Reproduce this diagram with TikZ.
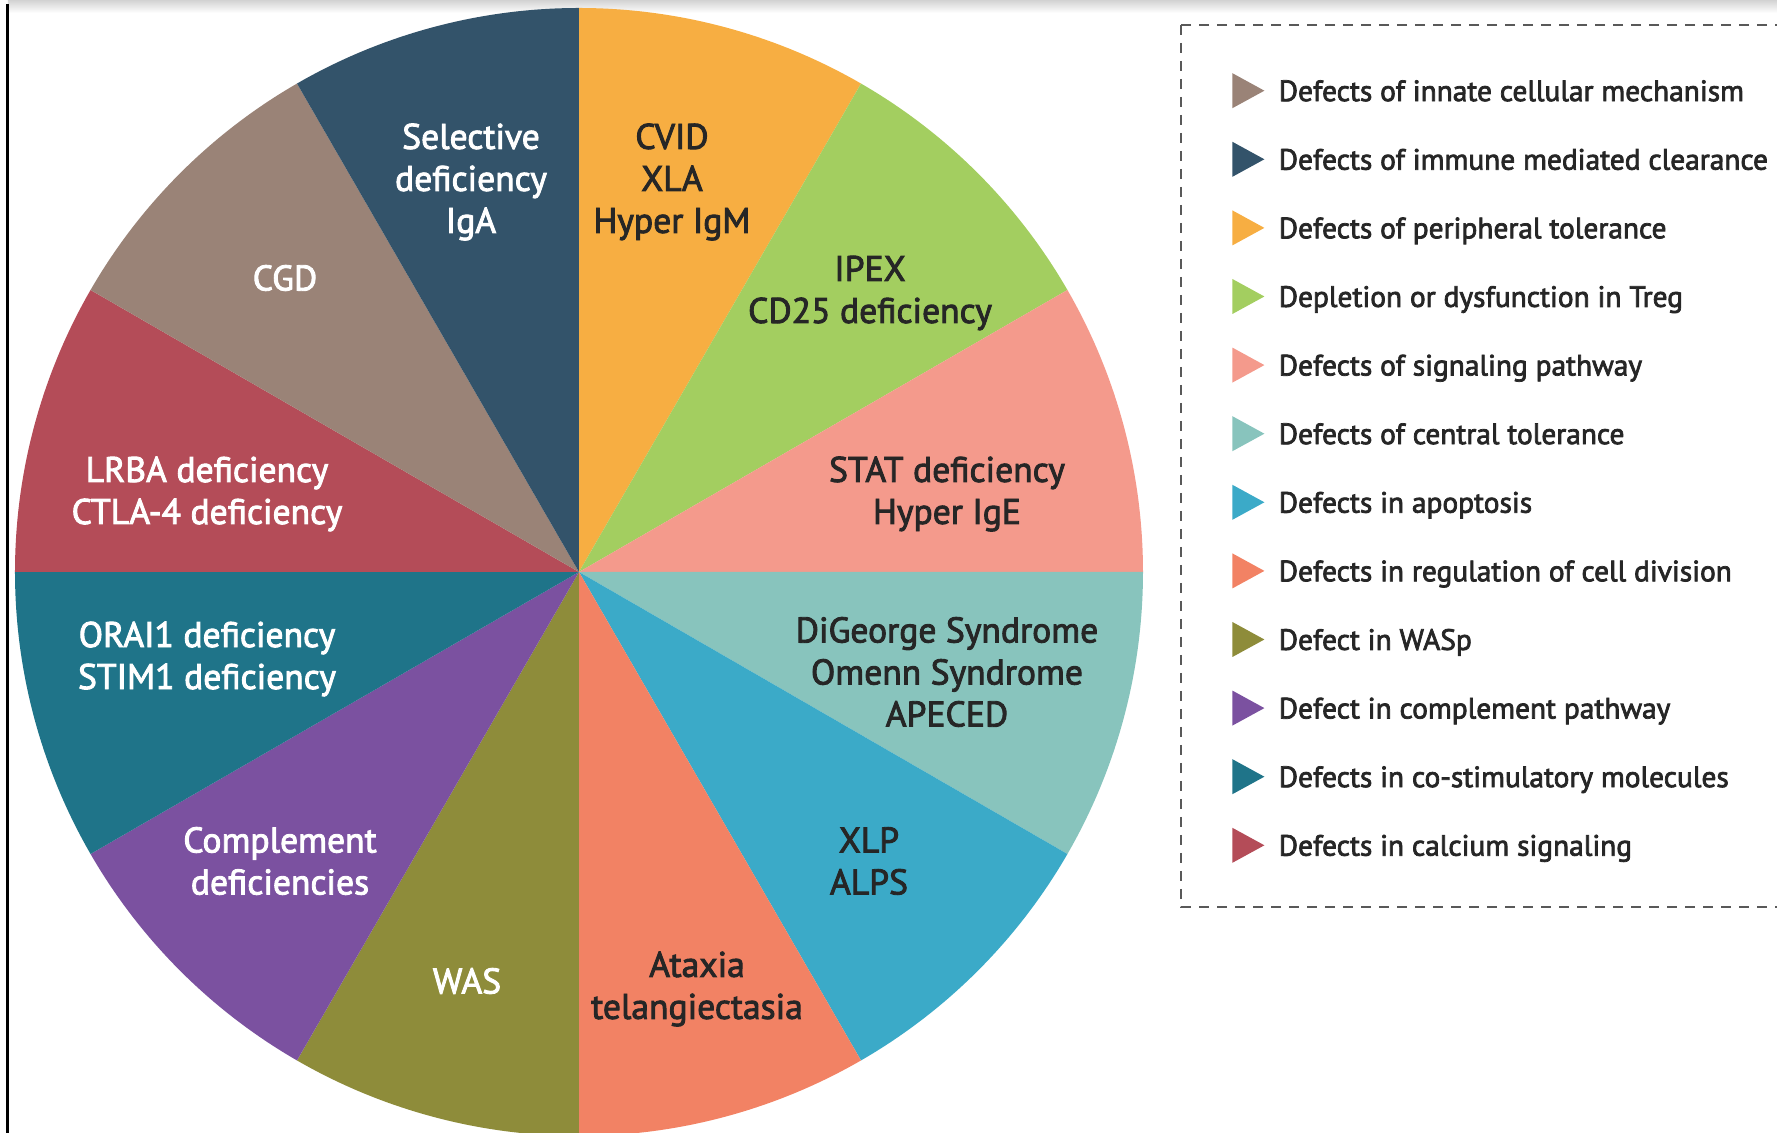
\documentclass[tikz,border=0pt]{standalone}
\usepackage{fontspec}
\setmainfont{PT Sans}[FakeBold=2.5]
\usetikzlibrary{positioning,shapes.geometric}
\definecolor{cOrange}{HTML}{F7AE42}
\definecolor{cGreen}{HTML}{A3CE60}
\definecolor{cPink}{HTML}{F49A8C}
\definecolor{cAqua}{HTML}{88C4BD}
\definecolor{cBlue}{HTML}{3BAAC8}
\definecolor{cCoral}{HTML}{F28264}
\definecolor{cOlive}{HTML}{8E8C3A}
\definecolor{cPurple}{HTML}{7B51A0}
\definecolor{cTeal}{HTML}{1F7489}
\definecolor{cRed}{HTML}{B44C58}
\definecolor{cTaupe}{HTML}{9A8377}
\definecolor{cSlate}{HTML}{33536A}
\definecolor{cInk}{HTML}{262626}

\begin{document}
\begin{tikzpicture}[x=0.5pt,y=0.5pt,
    slicelbl/.style={align=center,inner sep=0pt,font=\fontsize{17.8}{21}\selectfont},
    legmark/.style={isosceles triangle,isosceles triangle stretches,inner sep=0pt,
                    minimum height=16pt,minimum width=17.5pt},
    legtxt/.style={inner sep=0pt,text=cInk,text height=13.4pt,text depth=3pt,font=\fontsize{14.7}{17}\selectfont},
    legbox/.style={draw=gray!70!black,line width=1pt,dash pattern=on 5pt off 4pt}]
\useasboundingbox (-579,-561) rectangle (1198,572);
% edges of the scanned page
\shade[top color=gray!35,bottom color=white] (-571,572) rectangle (1198,559);
\draw[line width=1.5pt] (-571,568) -- (-571,-561);
% Draw the pie, 30 degrees per slice, clockwise from the top
\foreach \a/\c in {90/cOrange,60/cGreen,30/cPink,0/cAqua,-30/cBlue,-60/cCoral,
                   -90/cOlive,-120/cPurple,-150/cTeal,-180/cRed,-210/cTaupe,-240/cSlate}
  \fill[\c] (0,0) -- (\a:564) arc[start angle=\a,delta angle=-30,radius=564] -- cycle;
% slice labels
\foreach \n/\x/\y/\t/\s in {
    cvid/93/390/cInk/{CVID\\XLA\\Hyper IgM},
    ipex/291/279/cInk/{IPEX\\CD25 deficiency},
    stat/368/78/cInk/{STAT deficiency\\Hyper IgE},
    digeorge/368/-100/cInk/{DiGeorge Syndrome\\Omenn Syndrome\\APECED},
    xlp/290/-289/cInk/{XLP\\ALPS},
    ataxia/118/-417/cInk/{Ataxia\\telangiectasia},
    was/-112/-409/white/{WAS},
    compl/-299/-289/white/{Complement\\deficiencies},
    orai/-372/-87/white/{ORAI1 deficiency\\STIM1 deficiency},
    lrba/-372/78/white/{LRBA deficiency\\CTLA-4 deficiency},
    cgd/-294/294/white/{CGD},
    iga/-108/390/white/{Selective\\deficiency\\IgA}}
  \node[slicelbl,text=\t] (\n) at (\x,\y) {\s};
% legend
\draw[legbox] (602,547) rectangle (1210,-335);
\foreach \c/\s [count=\k] in {
    cTaupe/Defects of innate cellular mechanism,
    cSlate/Defects of immune mediated clearance,
    cOrange/Defects of peripheral tolerance,
    cGreen/Depletion or dysfunction in Treg,
    cPink/Defects of signaling pathway,
    cAqua/Defects of central tolerance,
    cBlue/Defects in apoptosis,
    cCoral/Defects in regulation of cell division,
    cOlive/Defect in WASp,
    cPurple/Defect in complement pathway,
    cTeal/Defects in co-stimulatory molecules,
    cRed/Defects in calcium signaling}{
  \node[legmark,fill=\c,anchor=west] (mk\k) at (653,{481.3-68.6*(\k-1)}) {};
  \node[legtxt,right=6.5pt of mk\k] (lg\k) {\s};
}
\end{tikzpicture}
\end{document}
